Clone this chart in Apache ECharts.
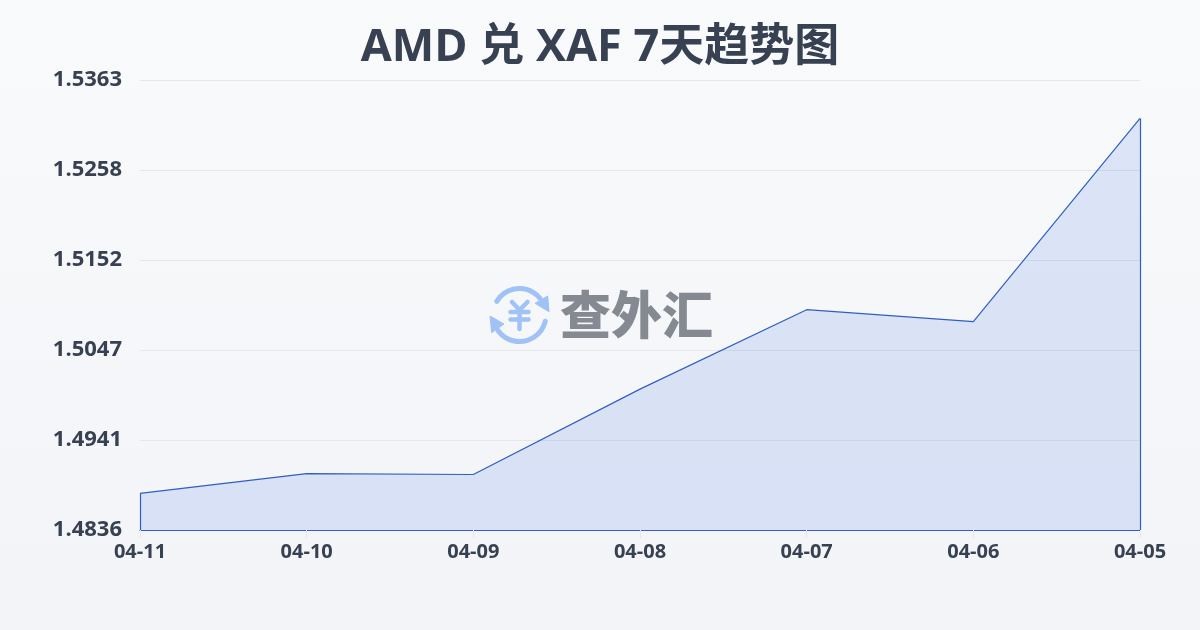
<!DOCTYPE html>
<html><head><meta charset="utf-8">
<style>html,body{margin:0;padding:0;background:#f6f7fa}#c{width:1200px;height:630px}</style>
<script src="https://cdn.jsdelivr.net/npm/echarts@6/dist/echarts.min.js"></script>
</head><body><div id="c"></div>
<script>
const categories = ['04-11','04-10','04-09','04-08','04-07','04-06','04-05'];
const values = [1.4879,1.4902,1.4901,1.5001,1.5094,1.5080,1.5318];
const yMin = 1.4836, yMax = 1.5363;
const titleText = 'AMD 兑 XAF 7天趋势图';
const watermarkText = '查外汇';
const lineColor = '#2f5fc4';
const chart = echarts.init(document.getElementById('c'), null, {renderer:'canvas'});
const font = '"Open Sans","Noto Sans CJK SC",sans-serif';
const blue = '#a0c2f7';
const yenStroke = {stroke:blue,lineWidth:4.5,lineCap:'round',lineJoin:'round',fill:null};
chart.setOption({
  animation:false,
  backgroundColor:{type:'linear',x:0,y:0,x2:0,y2:1,colorStops:[{offset:0,color:'#f9fafc'},{offset:1,color:'#f3f4f7'}]},
  title:{text:titleText,left:'center',top:21,textStyle:{fontFamily:font,fontSize:45,fontWeight:'bold',color:'#374151'}},
  grid:{left:140,right:60,top:80,bottom:100},
  xAxis:{type:'category',data:categories,boundaryGap:false,
    axisLine:{show:true,lineStyle:{color:lineColor,width:1}},
    axisTick:{show:true,length:8,lineStyle:{color:'#e8e8e8'}},
    axisLabel:{show:true,fontFamily:font,fontSize:20,fontWeight:'bold',color:'#374151',margin:12,showMinLabel:true,showMaxLabel:true,interval:0},
    splitLine:{show:false}},
  yAxis:{type:'value',min:yMin,max:yMax,interval:(yMax-yMin)/5,
    axisLine:{show:false},axisTick:{show:false},
    axisLabel:{fontFamily:font,fontSize:22,fontWeight:'bold',color:'#374151',margin:18,formatter:v=>v.toFixed(4)},
    splitLine:{show:true,lineStyle:{color:'#e5e7eb',width:1}}},
  series:[{type:'line',data:values,symbol:'none',smooth:false,
    lineStyle:{color:lineColor,width:1.2},
    areaStyle:{color:'rgba(50,105,225,0.2)',origin:'start'},
    markLine:{silent:true,symbol:'none',label:{show:false},lineStyle:{color:lineColor,width:1.2,type:'solid'},
      data:[
        [{coord:[categories[0],yMin]},{coord:[categories[0],values[0]]}],
        [{coord:[categories[6],yMin]},{coord:[categories[6],values[6]]}]
      ]}
  }],
  graphic:[{type:'group',x:485,y:280,silent:true,z:100,children:[
    {type:'arc',shape:{cx:34.5,cy:35,r:26.5,startAngle:-2.6,endAngle:-0.68},style:{stroke:blue,lineWidth:5,fill:null,lineCap:'round'}},
    {type:'arc',shape:{cx:34.5,cy:35,r:26.5,startAngle:0.24,endAngle:2.52},style:{stroke:blue,lineWidth:5,fill:null,lineCap:'round'}},
    {type:'polygon',shape:{points:[[62.7,16],[64,31.7],[50,23.3]]},style:{fill:blue,stroke:blue,lineWidth:1,lineJoin:'round'}},
    {type:'polygon',shape:{points:[[5,36],[19,44],[6.7,52.7]]},style:{fill:blue,stroke:blue,lineWidth:1,lineJoin:'round'}},
    {type:'polyline',shape:{points:[[27,22],[34.5,30],[42.5,22]]},style:yenStroke},
    {type:'polyline',shape:{points:[[25.5,32],[43.5,32]]},style:yenStroke},
    {type:'polyline',shape:{points:[[25.5,39.5],[43.5,39.5]]},style:yenStroke},
    {type:'polyline',shape:{points:[[34.5,30],[34.5,49]]},style:yenStroke}
  ]},{type:'text',x:560,y:289,silent:true,z:100,style:{text:watermarkText,font:'900 51px "Noto Sans CJK SC"',fill:'#858a92'}}]
});
</script></body></html>
